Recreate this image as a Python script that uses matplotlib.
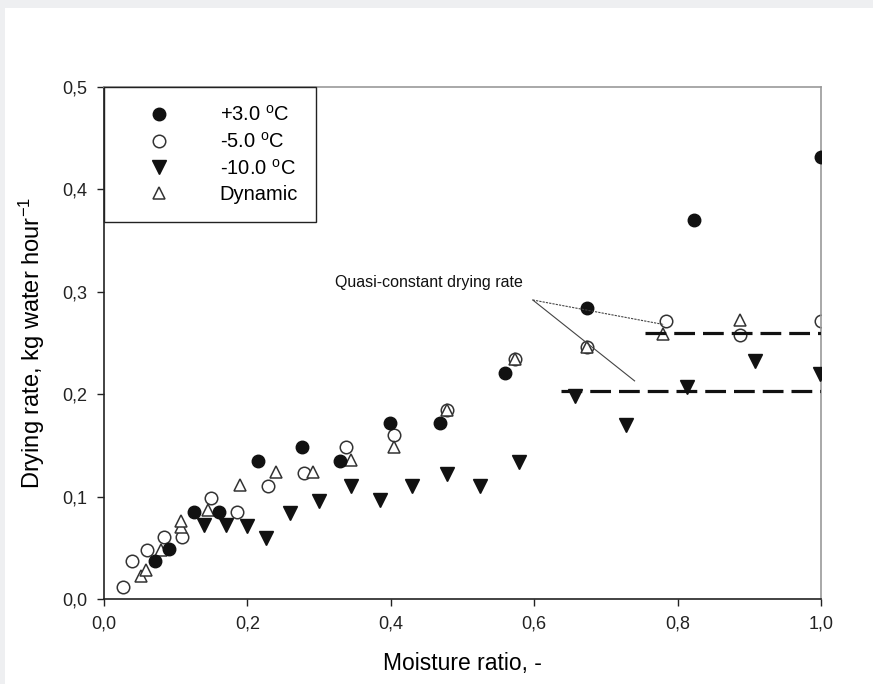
'''
Drying rate vs moisture ratio for several freezing temperatures
'''
import matplotlib
matplotlib.use('Agg')
import matplotlib.pyplot as plt
from matplotlib.patches import Rectangle

plt.rcParams['font.family'] = ['Liberation Sans', 'DejaVu Sans']
plt.rcParams['mathtext.fontset'] = 'custom'
plt.rcParams['mathtext.rm'] = 'Liberation Sans'
plt.rcParams['mathtext.it'] = 'Liberation Sans:italic'

# +3.0 C (filled circles)
plus3_x = [0.071, 0.091, 0.126, 0.160, 0.215, 0.276, 0.329, 0.399, 0.468, 0.559, 0.673, 0.823, 1.0]
plus3_y = [0.037, 0.049, 0.085, 0.085, 0.135, 0.148, 0.135, 0.172, 0.172, 0.221, 0.284, 0.370, 0.432]

# -5.0 C (open circles)
minus5_x = [0.026, 0.039, 0.060, 0.084, 0.109, 0.149, 0.185, 0.229, 0.279, 0.338,
            0.404, 0.478, 0.573, 0.673, 0.784, 0.887, 1.0]
minus5_y = [0.012, 0.037, 0.048, 0.061, 0.061, 0.099, 0.085, 0.110, 0.123, 0.148,
            0.160, 0.185, 0.234, 0.246, 0.271, 0.258, 0.271]

# -10.0 C (filled down triangles)
minus10_x = [0.139, 0.170, 0.200, 0.226, 0.259, 0.300, 0.345, 0.385, 0.429, 0.479,
             0.524, 0.579, 0.657, 0.728, 0.813, 0.908, 0.999]
minus10_y = [0.072, 0.072, 0.071, 0.060, 0.084, 0.096, 0.110, 0.097, 0.110, 0.122,
             0.110, 0.134, 0.198, 0.170, 0.207, 0.232, 0.220]

# Dynamic (open up triangles)
dyn_x = [0.052, 0.058, 0.080, 0.108, 0.108, 0.145, 0.190, 0.240, 0.291, 0.344,
         0.404, 0.478, 0.573, 0.673, 0.779, 0.887]
dyn_y = [0.022, 0.028, 0.048, 0.070, 0.076, 0.087, 0.111, 0.124, 0.124, 0.136,
         0.148, 0.185, 0.234, 0.246, 0.259, 0.272]

# quasi-constant rate levels
upper_rate = 0.260
upper_span = [0.755, 1.0]
lower_rate = 0.203
lower_span = [0.638, 1.0]

# annotation
note_text = 'Quasi-constant drying rate'
note_pos = (0.322, 0.309)
note_from = (0.598, 0.292)
note_to_upper = (0.781, 0.268)
note_to_lower = (0.740, 0.213)

xticks = [0.0, 0.2, 0.4, 0.6, 0.8, 1.0]
xticklabels = ['0,0', '0,2', '0,4', '0,6', '0,8', '1,0']
yticks = [0.0, 0.1, 0.2, 0.3, 0.4, 0.5]
yticklabels = ['0,0', '0,1', '0,2', '0,3', '0,4', '0,5']

fig = plt.figure(figsize=(8.73, 6.84), dpi=100)
fig.patch.set_facecolor('#eeeff1')
fig.patches.append(Rectangle((5 / 873, 0), 1, 1 - 8 / 684, transform=fig.transFigure,
                             facecolor='white', edgecolor='none', zorder=-10))
ax = fig.add_axes([104 / 873, (684 - 599) / 684, 717 / 873, 512 / 684])

ax.plot(plus3_x, plus3_y, 'o', ms=9, mfc='#111111', mec='#111111', label=r'+3.0 $^{\mathrm{o}}$C', zorder=3)
ax.plot(minus5_x, minus5_y, 'o', ms=9, mfc='white', mec='#333333', mew=1.1, label=r'-5.0 $^{\mathrm{o}}$C', zorder=2)
ax.plot(minus10_x, minus10_y, 'v', ms=9.5, mfc='#111111', mec='#111111', label=r'-10.0 $^{\mathrm{o}}$C', zorder=3)
ax.plot(dyn_x, dyn_y, '^', ms=8.5, mfc='white', mec='#333333', mew=1.1, label='Dynamic', zorder=2.5)

ax.plot(upper_span, [upper_rate, upper_rate], color='#111111', lw=2.3, dashes=(6.5, 2.5), zorder=4)
ax.plot(lower_span, [lower_rate, lower_rate], color='#111111', lw=2.3, dashes=(6.5, 2.5), zorder=4)

ax.text(note_pos[0], note_pos[1], note_text, fontsize=11.5, ha='left', va='center', color='#111111')
ax.plot([note_from[0], note_to_upper[0]], [note_from[1], note_to_upper[1]],
        color='#444444', lw=0.8, dashes=(2, 1), zorder=4)
ax.plot([note_from[0], note_to_lower[0]], [note_from[1], note_to_lower[1]],
        color='#444444', lw=0.8, zorder=4)

ax.set_xlim(0, 1.0)
ax.set_ylim(0, 0.5)
ax.set_xticks(xticks)
ax.set_xticklabels(xticklabels)
ax.set_yticks(yticks)
ax.set_yticklabels(yticklabels)
ax.tick_params(direction='out', length=5, width=1, labelsize=13, colors='#222222', pad=7)

for side in ['left', 'bottom']:
    ax.spines[side].set_color('#222222')
    ax.spines[side].set_linewidth(1.2)
for side in ['top', 'right']:
    ax.spines[side].set_color('#999999')
    ax.spines[side].set_linewidth(1.2)

ax.set_xlabel('Moisture ratio, -', fontsize=16.5, labelpad=14)
ax.set_ylabel(r'Drying rate, kg water hour$^{-1}$', fontsize=17, labelpad=11)

leg = ax.legend(loc='upper left', borderaxespad=0, fancybox=False, edgecolor='#222222',
                fontsize=14.5, numpoints=1, handlelength=3.7, handletextpad=1.15,
                borderpad=0.9, labelspacing=0.33, framealpha=1)
leg.get_frame().set_linewidth(1.0)

fig.savefig('out.png', dpi=100, facecolor=fig.get_facecolor())
